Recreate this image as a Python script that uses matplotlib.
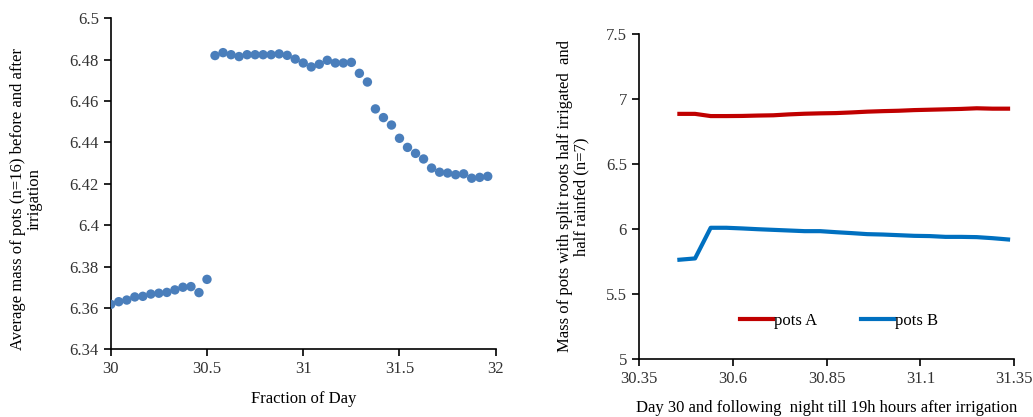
import numpy as np
import matplotlib
matplotlib.use("Agg")
import matplotlib.pyplot as plt

plt.rcParams['font.family'] = ['Liberation Serif', 'DejaVu Serif']
plt.rcParams['font.size'] = 12

# left panel: hourly averages, before and after irrigation
day_before = [30.0 + i / 24 for i in range(13)]
mass_before = [6.3617, 6.3630, 6.3638, 6.3653, 6.3656, 6.3667, 6.3671, 6.3675,
               6.3687, 6.3700, 6.3703, 6.3674, 6.3738]
day_after = [30.0 + i / 24 for i in range(13, 48)]
mass_after = [6.4820, 6.4834, 6.4824, 6.4815, 6.4824, 6.4824, 6.4824, 6.4824,
              6.4828, 6.4821, 6.4803, 6.4784, 6.4765, 6.4778, 6.4797, 6.4784,
              6.4784, 6.4787, 6.4734, 6.4692, 6.4562, 6.4520, 6.4484, 6.4420,
              6.4376, 6.4347, 6.4320, 6.4276, 6.4256, 6.4252, 6.4244, 6.4248,
              6.4227, 6.4231, 6.4236]

# right panel: split-root pots
day_split = [30.0 + i / 24 for i in range(11, 33)]
pots_a = [6.885, 6.885, 6.868, 6.868, 6.869, 6.872, 6.874, 6.881, 6.886, 6.889,
          6.891, 6.896, 6.902, 6.906, 6.909, 6.914, 6.917, 6.920, 6.923, 6.928,
          6.925, 6.925]
pots_b = [5.762, 5.772, 6.008, 6.008, 6.003, 5.997, 5.992, 5.987, 5.982, 5.982,
          5.974, 5.967, 5.959, 5.956, 5.951, 5.946, 5.944, 5.938, 5.938, 5.936,
          5.928, 5.918]

fig = plt.figure(figsize=(10.33, 4.17), dpi=100)

ax1 = fig.add_axes([0.1072, 0.1624, 0.3727, 0.7937])
ax1.scatter(day_before + day_after, mass_before + mass_after, s=46,
            color='#4A7EBB', edgecolors='none', zorder=3)
ax1.set_xlim(30, 32)
ax1.set_ylim(6.34, 6.5)
ax1.set_xticks([30, 30.5, 31, 31.5, 32])
ax1.set_xticklabels(['30', '30.5', '31', '31.5', '32'])
ax1.set_yticks(np.arange(6.34, 6.501, 0.02))
ax1.set_yticklabels(['6.34', '6.36', '6.38', '6.4', '6.42', '6.44', '6.46', '6.48', '6.5'])
ax1.set_xlabel('Fraction of Day', labelpad=10)
ax1.set_ylabel('Average mass of pots (n=16) before and after\nirrigation', linespacing=1.1)
ax1.yaxis.set_label_coords(-0.176, 0.454)

ax2 = fig.add_axes([0.6183, 0.1398, 0.3636, 0.7787])
ax2.plot(day_split, pots_a, color='#C00000', lw=3, label='pots A')
ax2.plot(day_split, pots_b, color='#0070C0', lw=3, label='pots B')
ax2.set_xlim(30.35, 31.35)
ax2.set_ylim(5, 7.5)
ax2.set_xticks([30.35, 30.6, 30.85, 31.1, 31.35])
ax2.set_xticklabels(['30.35', '30.6', '30.85', '31.1', '31.35'])
ax2.set_yticks([5, 5.5, 6, 6.5, 7, 7.5])
ax2.set_yticklabels(['5', '5.5', '6', '6.5', '7', '7.5'])
ax2.set_xlabel('Day 30 and following  night till 19h hours after irrigation', labelpad=10)
ax2.set_ylabel('Mass of pots with split roots half irrigated  and\nhalf rainfed (n=7)', linespacing=1.1)
ax2.yaxis.set_label_coords(-0.13, 0.5)
ax2.legend(loc='center', bbox_to_anchor=(0.533, 0.116), ncol=2, frameon=False,
           handlelength=2.0, handletextpad=0.05, columnspacing=2.6)

for ax in (ax1, ax2):
    ax.spines['top'].set_visible(False)
    ax.spines['right'].set_visible(False)
    ax.spines['left'].set_linewidth(1.2)
    ax.spines['bottom'].set_linewidth(1.2)
    ax.tick_params(direction='out', length=5, width=1.2, color='black',
                   labelcolor='#333333', labelsize=12)

fig.savefig('out.png', dpi=100)
